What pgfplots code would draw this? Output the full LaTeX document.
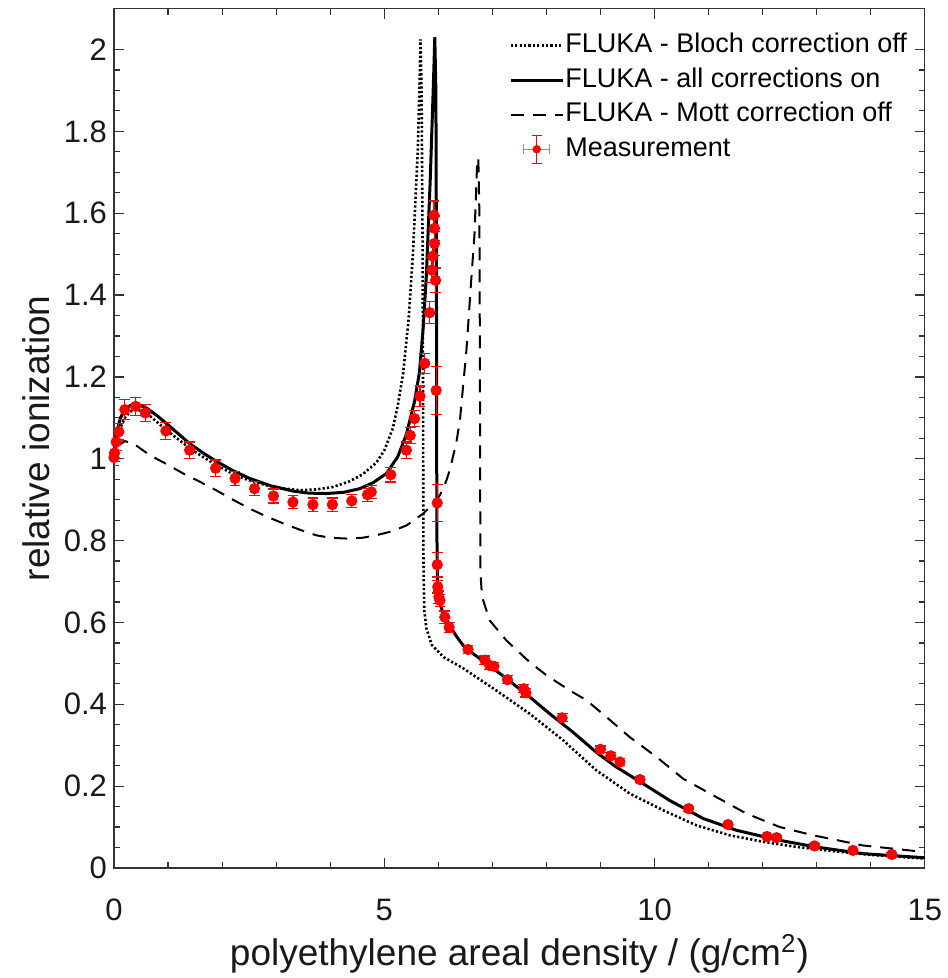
\documentclass[border=0pt]{standalone}
\usepackage{fontspec}
\setmainfont{Liberation Sans}
\usepackage{pgfplots}
\usepackage{pgfplotstable}
\pgfplotsset{compat=1.18}
\definecolor{errpink}{RGB}{255,110,110}

% measurement: x, y, x error, y error
\pgfplotstableread{
x     y      ex    ey
0.00  1.003  0.05  0.020
0.01  1.014  0.05  0.020
0.04  1.041  0.05  0.020
0.09  1.066  0.05  0.020
0.20  1.120  0.05  0.025
0.40  1.128  0.05  0.022
0.58  1.112  0.05  0.020
0.96  1.068  0.05  0.020
1.40  1.021  0.05  0.020
1.88  0.977  0.05  0.020
2.24  0.952  0.05  0.017
2.60  0.927  0.05  0.017
2.95  0.909  0.05  0.017
3.31  0.894  0.05  0.016
3.68  0.888  0.05  0.016
4.04  0.888  0.05  0.016
4.40  0.897  0.05  0.016
4.69  0.912  0.05  0.016
4.76  0.919  0.05  0.016
5.12  0.961  0.05  0.018
5.41  1.021  0.05  0.020
5.48  1.057  0.05  0.020
5.56  1.098  0.05  0.020
5.66  1.153  0.05  0.025
5.75  1.233  0.05  0.025
5.84  1.357  0.05  0.027
5.88  1.461  0.05  0.030
5.90  1.495  0.05  0.030
5.93  1.526  0.05  0.030
5.93  1.563  0.05  0.030
5.92  1.595  0.05  0.035
5.95  1.436  0.05  0.030
5.96  1.167  0.05  0.058
5.98  0.892  0.05  0.045
5.98  0.741  0.05  0.030
5.99  0.687  0.05  0.015
6.01  0.662  0.05  0.015
6.03  0.654  0.05  0.015
6.12  0.613  0.05  0.015
6.20  0.588  0.05  0.012
6.55  0.534  0.05  0.010
6.86  0.508  0.05  0.010
6.95  0.495  0.05  0.010
7.03  0.493  0.05  0.010
7.28  0.460  0.05  0.010
7.58  0.438  0.05  0.010
7.62  0.428  0.05  0.010
8.29  0.367  0.05  0.010
9.00  0.290  0.05  0.008
9.19  0.274  0.05  0.008
9.36  0.259  0.05  0.008
9.73  0.216  0.05  0.008
10.63 0.145  0.05  0.006
11.36 0.106  0.05  0.006
12.08 0.077  0.05  0.005
12.26 0.074  0.05  0.005
12.96 0.054  0.05  0.005
13.67 0.043  0.05  0.005
14.39 0.033  0.05  0.005
}\meas

% FLUKA, all corrections on
\pgfplotstableread{
x      y
0.00   1.000
0.03   1.040
0.07   1.075
0.12   1.100
0.20   1.120
0.30   1.130
0.44   1.133
0.60   1.124
0.80   1.105
0.97   1.086
1.20   1.060
1.40   1.037
1.65   1.014
1.89   0.994
2.20   0.971
2.51   0.952
2.90   0.934
3.31   0.921
3.60   0.916
3.93   0.915
4.25   0.918
4.55   0.927
4.80   0.942
5.04   0.964
5.25   1.005
5.41   1.060
5.56   1.140
5.65   1.210
5.72   1.320
5.78   1.450
5.81   1.550
5.85   1.680
5.88   1.800
5.91   1.920
5.935  2.030
5.955  1.900
5.965  1.500
5.970  1.000
5.975  0.800
5.985  0.700
6.02   0.650
6.09   0.622
6.21   0.593
6.33   0.567
6.46   0.544
6.64   0.524
6.86   0.503
7.26   0.463
7.69   0.418
8.06   0.377
8.49   0.332
8.92   0.283
9.29   0.247
9.79   0.206
10.28  0.165
10.90  0.121
11.52  0.092
12.26  0.069
13.00  0.051
13.86  0.035
15.00  0.025
}\allon

% FLUKA, Bloch correction off
\pgfplotstableread{
x      y
0.00   0.995
0.05   1.040
0.10   1.070
0.20   1.100
0.30   1.115
0.41   1.121
0.60   1.112
0.97   1.070
1.30   1.036
1.59   1.009
1.90   0.984
2.20   0.963
2.50   0.947
2.82   0.935
3.10   0.928
3.44   0.923
3.74   0.925
4.05   0.931
4.36   0.945
4.60   0.962
4.85   0.990
5.00   1.020
5.16   1.075
5.25   1.130
5.35   1.210
5.45   1.340
5.53   1.500
5.58   1.640
5.62   1.754
5.65   1.900
5.67   2.025
5.69   1.900
5.71   1.500
5.72   1.000
5.725  0.750
5.74   0.630
5.78   0.585
5.88   0.545
6.10   0.515
6.46   0.488
7.07   0.434
7.69   0.377
8.31   0.312
8.92   0.239
9.54   0.182
10.16  0.141
10.78  0.104
11.39  0.080
12.01  0.064
12.60  0.052
13.24  0.042
14.00  0.032
15.00  0.023
}\blochoff

% FLUKA, Mott correction off
\pgfplotstableread{
x      y
0.05   1.030
0.20   1.043
0.35   1.038
0.66   1.009
1.00   0.985
1.28   0.964
1.60   0.943
1.89   0.923
2.20   0.900
2.51   0.878
2.82   0.859
3.13   0.842
3.45   0.826
3.74   0.813
4.00   0.807
4.30   0.805
4.60   0.807
4.85   0.813
5.15   0.823
5.41   0.837
5.72   0.866
5.90   0.890
6.03   0.911
6.15   0.947
6.21   0.972
6.33   1.037
6.40   1.094
6.52   1.265
6.60   1.420
6.67   1.550
6.72   1.729
6.74   1.735
6.76   1.600
6.77   1.200
6.775  0.900
6.78   0.720
6.80   0.680
6.83   0.654
6.95   0.605
7.26   0.556
7.69   0.503
8.00   0.471
8.43   0.434
8.74   0.410
9.11   0.369
9.54   0.320
10.04  0.271
10.53  0.218
11.08  0.178
11.70  0.133
12.32  0.100
12.93  0.080
13.86  0.055
15.00  0.039
}\mottoff

\begin{document}
\begin{tikzpicture}
\begin{axis}[
  name=ax,
  scale only axis,
  width=405.4pt, height=429.7pt,
  xmin=0, xmax=15, ymin=0, ymax=2.1,
  xtick={0,5,10,15},
  ytick={0,0.2,0.4,0.6,0.8,1,1.2,1.4,1.6,1.8,2},
  minor x tick num=4,
  minor y tick num=3,
  tick align=inside,
  xtick pos=both, ytick pos=both,
  major tick length=5pt, minor tick length=3pt,
  axis line style={black!80, line width=0.6pt},
  every tick/.style={black!80, line width=0.6pt},
  /pgf/number format/assume math mode=true,
  ticklabel style={font=\fontsize{15.5}{18}\selectfont, text=black!90},
  xticklabel style={yshift=-12pt},
  label style={font=\fontsize{18.5}{22}\selectfont, text=black!90},
  xlabel={polyethylene areal density / (g/cm\textsuperscript{2})},
  ylabel={relative ionization},
  legend image code/.code={\draw[#1] (0pt,0pt) -- (26pt,0pt);},
  legend cell align=left,
  legend style={at={(0.487,0.975)}, anchor=north west, draw=none, fill=none,
    inner sep=0pt, row sep=2.3pt,
    font=\fontsize{13.5}{16}\selectfont,
    nodes={inner xsep=0.5pt, inner ysep=1pt, text height=10pt, text depth=3pt}},
]
\addplot[black, line width=1.3pt, dash pattern=on 1.1pt off 1.1pt] table[x=x,y=y]{\blochoff};
\addlegendentry{FLUKA - Bloch correction off}
\addplot[black, line width=1.5pt] table[x=x,y=y]{\allon};
\addlegendentry{FLUKA - all corrections on}
\addplot[black, line width=1.0pt, dash pattern=on 6.5pt off 4.5pt] table[x=x,y=y]{\mottoff};
\addlegendentry{FLUKA - Mott correction off}
% horizontal error bars (lighter)
\addplot[errpink, only marks, mark=none, forget plot,
  error bars/.cd,
    x dir=both, x explicit,
    error bar style={errpink, line width=0.6pt},
    error mark=-,
    error mark options={rotate=90, errpink, line width=0.6pt, mark size=2.2pt},
  ]
  table[x=x, y=y, x error=ex]{\meas};
% points with vertical error bars
\addplot[red, only marks, mark=*, mark size=2.6pt,
  mark options={fill=red, draw=red},
  legend image code/.code={
    \draw[errpink, line width=0.6pt] (6.5pt,0pt) -- (19.5pt,0pt)
       (6.5pt,-2.5pt) -- (6.5pt,2.5pt) (19.5pt,-2.5pt) -- (19.5pt,2.5pt);
    \draw[red, line width=0.6pt] (13pt,-7pt) -- (13pt,7pt)
       (10.5pt,-7pt) -- (15.5pt,-7pt) (10.5pt,7pt) -- (15.5pt,7pt);
    \fill[red] (13pt,0pt) circle (1.9pt);},
  error bars/.cd,
    y dir=both, y explicit,
    error bar style={red, line width=0.6pt},
    error mark=-,
    error mark options={rotate=90, red, line width=0.6pt, mark size=2.7pt},
  ]
  table[x=x, y=y, y error=ey]{\meas};
\addlegendentry{Measurement}
\end{axis}
\pgfresetboundingbox
\path[use as bounding box] (ax.south west) ++(-57pt,-55pt) rectangle ++(473.5pt,489pt);
\end{tikzpicture}
\end{document}
